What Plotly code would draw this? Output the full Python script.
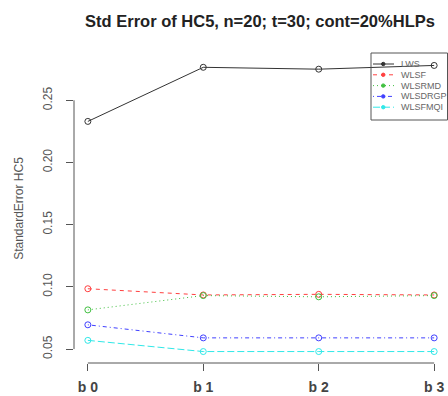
import plotly.graph_objects as go

categories = ["b 0", "b 1", "b 2", "b 3"]
series_names = ["LWS", "WLSF", "WLSRMD", "WLSDRGP", "WLSFMQI"]
LWS = [0.233, 0.2765, 0.275, 0.278]
WLSF = [0.0985, 0.0935, 0.094, 0.0935]
WLSRMD = [0.0815, 0.093, 0.092, 0.093]
WLSDRGP = [0.0695, 0.059, 0.059, 0.059]
WLSFMQI = [0.057, 0.048, 0.048, 0.048]
y_ticks = [0.05, 0.10, 0.15, 0.20, 0.25]
y_tick_text = ["0.05", "0.10", "0.15", "0.20", "0.25"]

values = [LWS, WLSF, WLSRMD, WLSDRGP, WLSFMQI]
colors = ["#333333", "#ff4040", "#40c040", "#4040ff", "#30e8e8"]
dashes = ["solid", "4px,4px", "1px,3px", "1px,3px,4px,3px", "7px,3px"]

W, H = 448, 396
ML, MR, MT, MB = 74, 0, 54, 33
FONT = "Liberation Sans, Arial, sans-serif"

xs = list(range(len(categories)))
fig = go.Figure()
for name, vals, c, d in zip(series_names, values, colors, dashes):
    fig.add_trace(go.Scatter(
        x=xs, y=vals, name=name, mode="lines+markers",
        line=dict(color=c, width=1, dash=d),
        marker=dict(symbol="circle-open", size=6, color=c, line=dict(width=1, color=c)),
        showlegend=False,
    ))

def px_x(p):
    return (p - ML) / (W - ML - MR)

def px_y(p):
    return (H - MB - p) / (H - MT - MB)

shapes = []
# R-style detached axes
shapes.append(dict(type="line", xref="x", yref="paper", x0=xs[0], x1=xs[-1], y0=0, y1=0,
                   line=dict(color="#555555", width=1)))
shapes.append(dict(type="line", xref="paper", yref="y", x0=0, x1=0, y0=y_ticks[0], y1=y_ticks[-1],
                   line=dict(color="#555555", width=1)))
# manual legend box
shapes.append(dict(type="rect", xref="paper", yref="paper", x0=px_x(371), x1=px_x(447.5),
                   y0=px_y(120), y1=px_y(53), line=dict(color="#555555", width=1),
                   fillcolor="rgba(0,0,0,0)"))
annotations = []
for i, (name, c, d) in enumerate(zip(series_names, colors, dashes)):
    yy = 64 + i * 10.8
    shapes.append(dict(type="line", xref="paper", yref="paper", x0=px_x(373), x1=px_x(394),
                       y0=px_y(yy), y1=px_y(yy), line=dict(color=c, width=1, dash=d)))
    shapes.append(dict(type="circle", xref="paper", yref="paper", x0=px_x(381.5), x1=px_x(385),
                       y0=px_y(yy + 1.7), y1=px_y(yy - 1.7), line=dict(color=c, width=1),
                       fillcolor=c))
    annotations.append(dict(xref="paper", yref="paper", x=px_x(399), y=px_y(yy), text=name,
                            showarrow=False, xanchor="left", yanchor="middle",
                            font=dict(family=FONT, size=9, color="#666666")))

fig.update_layout(
    width=W, height=H,
    margin=dict(l=ML, r=MR, t=MT, b=MB, pad=0),
    paper_bgcolor="white", plot_bgcolor="white",
    title=dict(text="<b>Std Error of HC5, n=20; t=30; cont=20%HLPs</b>",
               x=260 / W, xanchor="center", xref="container",
               y=1 - 21 / H, yanchor="middle", yref="container",
               font=dict(family=FONT, size=16.5, color="#222222")),
    xaxis=dict(range=[-0.12, 3.12], tickmode="array", tickvals=xs,
               ticktext=["<b>%s</b>" % c for c in categories],
               showgrid=False, zeroline=False, showline=False,
               ticks="outside", ticklen=7, tickwidth=1, tickcolor="#555555",
               ticklabelstandoff=4,
               tickfont=dict(family=FONT, size=14, color="#444444")),
    yaxis=dict(range=[0.0388, 0.2872], tickmode="array", tickvals=y_ticks, ticktext=y_tick_text,
               showgrid=False, zeroline=False, showline=False,
               ticks="outside", ticklen=7, tickwidth=1, tickcolor="#555555", tickangle=-90,
               ticklabelstandoff=9,
               tickfont=dict(family=FONT, size=12, color="#555555"),
               title=dict(text="StandardError HC5", standoff=15,
                          font=dict(family=FONT, size=12, color="#555555"))),
    shapes=shapes, annotations=annotations,
)

fig.write_html("out.html")
